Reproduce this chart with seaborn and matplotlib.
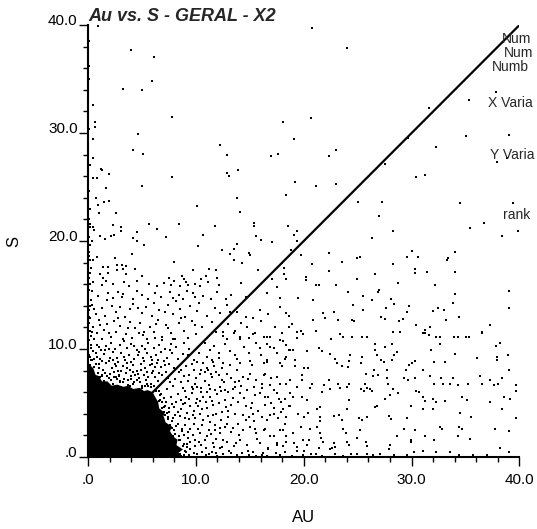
import matplotlib
matplotlib.use("Agg")
import matplotlib.pyplot as plt
import pandas as pd
import seaborn as sns
from matplotlib.ticker import MultipleLocator

# outline of the saturated (solid black) cloud near the origin
blob_au = [0.0, 8.6, 8.4, 8.8, 8.2, 8.3, 7.9, 7.6, 7.8, 7.2, 7.0, 7.1, 6.6, 6.5, 6.2, 6.0,
           5.5, 5.2, 4.8, 4.2, 3.7, 3.3, 2.7, 2.2, 1.8, 1.3, 1.0, 0.7, 0.5, 0.2, 0.0]
blob_s = [0.0, 0.0, 0.4, 0.7, 1.1, 1.6, 1.9, 2.4, 2.8, 3.2, 3.8, 4.1, 4.5, 5.1, 5.6, 6.0,
          6.2, 6.1, 6.4, 6.3, 6.6, 6.5, 6.7, 6.6, 7.0, 7.0, 7.5, 7.6, 8.2, 8.5, 8.8]

# y = x reference line
diag_au = [0.0, 40.0]
diag_s = [0.0, 40.0]

tick_vals = [0, 10, 20, 30, 40]
tick_labels = [".0", "10.0", "20.0", "30.0", "40.0"]

# points with S > 20
pts_high = [
    (0.9, 39.9), (3.96, 37.7), (6.15, 37.0), (5.94, 34.8), (3.28, 34.1), (5.0, 34.0),
    (0.5, 32.6), (7.8, 31.45), (20.8, 39.7), (24.05, 37.9), (31.6, 32.3), (37.8, 33.8),
    (35.3, 33.1), (39.05, 29.8), (35.0, 29.7), (37.9, 27.3), (34.5, 23.5), (39.4, 23.5),
    (35.4, 21.2), (36.7, 21.7), (38.4, 20.5), (39.9, 20.9), (0.65, 31.0), (0.65, 30.6),
    (0.43, 29.4), (0.5, 27.7), (7.76, 31.5), (4.6, 29.9), (4.2, 28.4), (5.07, 28.1),
    (1.2, 26.7), (1.33, 26.6), (1.9, 26.2), (0.5, 25.8), (0.8, 25.8), (7.76, 25.9),
    (5.04, 25.1), (1.67, 24.9), (0.74, 24.0), (0.9, 23.3), (1.5, 23.6), (1.95, 23.7),
    (1.02, 22.6), (2.57, 22.6), (0.19, 21.3), (0.5, 21.3), (0.59, 21.0), (2.29, 21.5),
    (3.06, 21.3), (3.06, 20.96), (5.69, 21.6), (6.37, 21.1), (8.44, 21.6), (7.23, 20.4),
    (2.1, 20.5), (2.4, 20.6), (1.1, 20.5), (4.57, 20.8), (10.14, 23.2), (10.7, 20.6),
    (11.8, 21.4), (12.2, 28.9), (12.9, 28.0), (12.9, 26.3), (13.1, 26.0), (13.95, 26.6),
    (13.8, 24.0), (14.1, 22.7), (15.4, 21.7), (15.4, 21.4), (15.6, 20.5), (17.0, 27.9),
    (17.6, 28.1), (18.1, 31.0), (19.05, 29.4), (18.4, 24.3), (19.2, 25.5), (18.5, 21.4),
    (19.05, 20.6), (20.7, 31.4), (22.3, 27.9), (23.0, 28.4), (29.7, 29.5), (32.3, 28.7),
    (38.8, 27.7), (27.5, 27.1), (30.4, 25.9), (31.2, 26.1), (21.1, 25.1), (23.0, 25.3),
    (25.0, 23.6), (27.3, 23.6), (27.0, 22.3), (19.4, 20.9), (28.3, 20.9), (26.3, 20.3),
    (0.1, 38.5), (0.1, 36.2), (0.05, 35.0), (0.1, 30.4), (0.15, 27.0), (0.1, 24.6),
    (0.2, 23.0), (0.1, 22.0), (0.1, 20.4), (0.15, 21.6),
]

# points with 10 < S < 20
pts_mid = [
    (0.34, 20.0), (4.14, 20.3), (4.5, 20.0), (5.2, 19.6), (4.05, 18.8), (0.8, 18.5),
    (2.5, 18.4), (8.0, 18.1), (0.19, 18.2), (0.43, 18.25), (3.18, 17.8), (2.72, 17.8),
    (1.36, 17.6), (1.89, 17.6), (3.5, 17.7), (10.2, 19.5), (12.4, 19.2), (13.5, 19.3),
    (13.8, 19.7), (13.2, 18.8), (13.5, 18.2), (14.9, 18.9), (15.0, 18.7), (14.3, 18.0),
    (15.8, 17.3), (17.96, 18.0), (19.4, 20.0), (17.1, 19.9), (16.0, 20.1), (1.58, 20.2),
    (0.19, 17.0), (1.1, 16.9), (1.4, 16.6), (1.89, 17.0), (2.66, 17.3), (3.2, 17.4),
    (3.5, 16.9), (4.36, 17.4), (4.98, 16.8), (7.5, 16.6), (8.75, 16.8), (8.9, 16.5),
    (9.1, 16.2), (9.7, 17.3), (10.5, 16.5), (10.9, 16.8), (11.2, 17.4), (11.9, 17.3),
    (12.0, 16.6), (17.1, 16.5),
    (0.49, 16.2), (1.26, 15.9), (1.63, 16.3), (2.35, 16.0), (3.37, 16.2), (3.83, 15.8),
    (4.57, 16.3), (5.66, 16.0), (6.37, 15.8), (7.0, 16.1), (7.68, 15.9), (7.98, 16.3),
    (8.5, 15.8), (9.3, 15.9), (9.9, 16.0), (10.4, 15.8), (11.1, 16.2), (12.1, 15.9),
    (14.2, 16.1), (17.5, 15.7),
    (0.33, 15.4), (0.96, 14.9), (1.89, 15.2), (2.35, 14.7), (2.81, 15.3), (3.12, 14.8),
    (3.28, 15.1), (4.2, 14.6), (4.5, 15.4), (4.98, 15.0), (5.6, 14.6), (6.2, 15.2),
    (6.8, 14.8), (7.6, 15.3), (7.9, 14.7), (8.4, 15.0), (8.85, 14.6), (9.15, 15.4),
    (9.7, 15.2), (9.9, 14.8), (10.7, 14.9), (12.0, 15.3), (12.8, 14.6), (13.3, 15.0),
    (14.6, 14.8), (16.6, 15.2), (17.8, 14.7),
    (0.08, 13.6), (0.39, 14.1), (0.7, 13.2), (1.3, 13.8), (1.6, 13.1), (2.2, 14.0),
    (2.6, 13.4), (2.97, 13.9), (3.4, 13.0), (3.9, 13.7), (4.2, 14.2), (5.0, 13.3),
    (5.4, 13.9), (5.95, 13.1), (6.6, 13.6), (7.4, 14.1), (7.9, 13.2), (8.5, 13.7),
    (9.0, 13.0), (9.5, 14.0), (10.1, 13.5), (11.0, 13.1), (11.8, 13.8), (12.2, 13.3),
    (12.9, 14.1), (13.8, 13.4), (14.6, 13.0), (15.9, 13.6), (16.7, 13.2), (17.8, 13.9),
    (18.6, 13.1),
    (0.1, 12.4), (0.25, 11.2), (0.5, 12.0), (0.8, 11.5), (1.0, 12.7), (1.3, 10.9),
    (1.5, 11.8), (1.8, 12.3), (2.1, 11.1), (2.4, 12.6), (2.6, 11.6), (3.0, 12.1),
    (3.2, 10.9), (3.5, 11.4), (3.9, 12.5), (4.1, 11.0), (4.4, 11.9), (4.8, 12.4),
    (5.1, 11.3), (5.5, 10.9), (5.7, 12.0), (6.1, 11.6), (6.5, 12.7), (6.9, 11.1),
    (7.2, 12.2), (7.7, 11.5), (8.1, 10.9), (8.4, 12.4), (8.9, 11.7), (9.3, 11.0),
    (9.6, 12.6), (10.0, 11.4), (10.6, 12.0), (11.0, 11.0), (11.5, 12.5), (11.9, 11.6),
    (12.5, 11.2), (13.0, 12.3), (13.6, 11.7), (14.1, 10.9), (14.7, 12.0), (15.3, 11.4),
    (16.0, 12.6), (16.6, 11.1), (17.3, 12.0), (18.0, 11.5),
    (5.2, 11.6), (6.3, 12.3), (7.4, 11.9), (8.6, 12.9), (9.9, 12.2), (10.8, 10.6),
    (11.7, 10.3), (12.9, 10.9), (14.5, 10.2), (7.9, 10.9), (6.2, 11.0), (4.7, 11.5),
    (3.7, 11.9), (2.8, 12.9), (1.9, 11.5), (1.1, 12.2), (0.6, 10.9), (0.4, 11.6),
    (0.6, 13.7), (1.8, 14.5), (4.6, 13.8), (6.1, 14.3), (7.1, 13.4), (8.2, 14.4),
    (10.3, 14.3), (11.4, 14.6), (13.2, 13.4), (14.2, 12.4), (15.3, 12.9), (15.6, 10.6),
    (18.8, 19.2), (19.7, 18.7), (22.3, 18.9), (23.5, 18.1), (24.9, 18.4), (25.2, 18.5),
    (28.3, 17.9), (30.0, 19.1), (29.6, 18.5), (30.6, 18.5), (33.3, 18.2), (34.0, 19.0),
    (20.8, 17.9), (18.2, 17.5), (18.2, 16.9), (18.4, 16.5), (20.2, 16.7), (20.2, 16.4),
    (22.3, 17.2), (24.9, 16.5), (26.6, 16.9), (30.3, 17.4), (30.3, 17.0), (31.4, 17.1),
    (34.0, 17.1), (28.7, 16.1), (32.2, 15.9), (21.1, 15.9), (21.4, 15.9), (23.0, 15.9),
    (24.1, 15.3), (25.5, 14.9), (26.9, 15.3), (27.0, 15.5), (26.3, 14.5), (20.9, 14.5),
    (34.0, 15.1), (39.0, 15.4), (19.5, 14.7), (24.6, 14.1), (25.5, 13.6), (28.1, 14.6),
    (28.4, 14.2), (27.6, 13.8), (29.8, 14.0), (32.0, 13.5), (32.4, 13.8), (33.0, 13.6),
    (33.8, 14.3), (39.0, 13.8), (21.8, 13.3), (22.0, 12.9), (22.8, 13.4), (23.2, 12.7),
    (20.9, 12.7), (24.5, 12.7), (24.7, 12.6), (27.2, 13.0), (27.5, 12.8), (28.8, 12.6),
    (29.2, 12.8), (29.6, 13.4), (34.4, 13.0), (33.2, 12.7), (37.3, 12.2), (18.4, 13.3),
    (18.9, 12.3), (18.6, 12.0), (19.4, 11.6), (19.7, 11.7), (19.9, 11.4), (21.1, 11.7),
    (22.5, 10.9), (23.4, 11.4), (23.6, 11.1), (24.5, 11.1), (25.4, 11.1), (25.9, 11.1),
    (28.3, 11.6), (28.9, 11.6), (30.4, 12.2), (31.2, 11.8), (31.7, 12.0), (31.2, 11.5),
    (31.6, 11.3), (32.3, 11.1), (33.9, 11.1), (35.0, 11.1), (36.5, 11.6), (33.4, 18.4),
    (0.1, 19.0), (0.2, 16.0), (0.3, 14.5), (0.05, 15.5), (0.15, 12.9), (0.3, 10.4),
    (0.1, 10.8), (0.2, 11.7), (0.05, 13.0), (0.15, 14.0), (0.1, 16.6), (0.25, 17.5),
    (0.1, 18.6), (0.2, 19.6),
]

# points around and above the solid cloud (AU < 10, S < 11)
pts_near = [
    (1.5, 7.0), (1.9, 7.3), (2.3, 6.8), (2.6, 7.4), (3.0, 6.9), (3.3, 7.2), (3.7, 6.7),
    (4.0, 7.5), (4.3, 6.9), (4.7, 7.3), (5.0, 6.6), (5.4, 7.1), (5.8, 6.8), (6.2, 7.4),
    (0.9, 7.8), (1.3, 7.5), (2.0, 7.7), (2.9, 7.6), (3.5, 7.8), (4.6, 7.7), (5.2, 7.6),
    (5.9, 7.8), (2.4, 7.9), (3.1, 8.0), (4.2, 7.9), (5.6, 7.4), (6.5, 7.0), (6.9, 7.6),
    (0.2, 8.5), (0.6, 8.3), (1.0, 8.6), (1.4, 8.1), (1.7, 8.7), (2.2, 8.2), (2.5, 8.6),
    (2.8, 8.0), (3.2, 8.4), (3.6, 8.7), (3.9, 8.1), (4.2, 8.5), (4.5, 8.0), (4.9, 8.6),
    (5.3, 8.2), (5.7, 8.5), (6.0, 8.0), (6.4, 8.7), (6.8, 8.3), (7.2, 7.9), (7.5, 8.6),
    (0.4, 9.0), (0.1, 9.4), (0.7, 9.6), (1.1, 9.1), (1.5, 9.5), (1.9, 8.9), (2.3, 9.7),
    (2.7, 9.2), (3.1, 9.6), (3.4, 9.0), (3.8, 9.4), (4.3, 9.1), (4.7, 9.7), (5.1, 9.2),
    (5.5, 9.6), (5.9, 9.0), (6.3, 9.4), (6.8, 9.7), (7.3, 9.2), (7.8, 9.6), (8.3, 9.1),
    (8.8, 9.5), (0.3, 10.1), (0.8, 10.4), (1.2, 9.9), (1.7, 10.3), (2.1, 10.6),
    (2.5, 10.0), (3.0, 10.4), (3.6, 10.1), (4.0, 10.5), (4.5, 9.9), (5.0, 10.3),
    (5.6, 10.6), (6.1, 10.1), (6.6, 10.4), (7.1, 10.0), (7.7, 10.5), (8.2, 10.2),
    (8.9, 10.6), (9.4, 10.0),
    (0.5, 9.8), (1.3, 8.9), (2.0, 9.2), (2.6, 8.4), (3.3, 9.3), (4.0, 8.8), (4.6, 9.4),
    (5.2, 8.9), (5.8, 9.3), (6.5, 9.0), (6.2, 8.3), (7.0, 8.9), (7.6, 9.9), (1.0, 10.2),
    (1.9, 10.0), (3.3, 10.7), (4.3, 10.3), (5.3, 10.0), (6.9, 10.8), (2.8, 8.8),
    (3.6, 8.2), (4.4, 7.6), (5.5, 7.9), (6.6, 7.8), (7.1, 8.5), (0.8, 9.3), (1.6, 9.9),
    (2.3, 9.0), (4.9, 8.1), (5.9, 8.6),
    (0.3, 9.0), (0.7, 8.6), (1.0, 8.2), (1.3, 7.6), (1.8, 7.5), (2.1, 7.1), (2.7, 7.2),
    (3.2, 6.9), (3.7, 7.1), (4.2, 6.8), (4.8, 6.9), (5.3, 6.6), (5.8, 6.5), (6.2, 6.2),
    (1.1, 7.4), (2.4, 7.4), (3.0, 7.0), (3.9, 6.6), (4.5, 7.1), (5.0, 6.4), (5.5, 6.8),
    (6.1, 6.6), (1.6, 7.8), (2.9, 7.5), (4.0, 7.2), (0.2, 9.3), (0.6, 9.1),
    (6.7, 5.7), (6.9, 5.1), (7.0, 4.6), (7.3, 4.1), (7.4, 3.5), (7.6, 3.0), (8.0, 2.5),
    (8.1, 2.1), (8.5, 1.6), (8.9, 1.2), (9.0, 0.6), (8.9, 0.2), (6.6, 6.1), (7.1, 3.9),
    (7.8, 2.7), (8.4, 1.9), (9.2, 0.9), (9.4, 0.2), (7.0, 5.5), (7.5, 4.5), (7.9, 3.6),
    (8.3, 3.1), (8.7, 2.6), (9.5, 1.4), (9.8, 0.4),
    (8.5, 0.3), (8.8, 1.0), (9.1, 0.5), (9.3, 1.8), (8.4, 1.6), (8.7, 2.4), (9.0, 3.0),
    (8.2, 2.9), (7.8, 3.3), (8.5, 3.8), (9.2, 4.1), (7.5, 4.2), (8.0, 4.6), (8.8, 4.9),
    (9.4, 5.4), (7.2, 5.1), (7.7, 5.6), (8.3, 5.8), (9.0, 6.1), (6.8, 5.8), (7.3, 6.3),
    (7.9, 6.6), (8.6, 6.9), (9.3, 7.0), (6.6, 6.6), (7.9, 1.9), (8.9, 2.0), (9.5, 2.6),
    (9.4, 3.5), (8.1, 3.9), (7.1, 4.7), (6.7, 5.3), (9.1, 5.6), (8.6, 5.3), (7.6, 6.9),
    (9.6, 6.5), (6.3, 6.1), (8.9, 7.5), (8.1, 7.2), (9.5, 4.7), (8.3, 4.2), (7.4, 3.7),
    (9.2, 1.2), (8.2, 0.7), (8.6, 0.1), (9.0, 3.6), (7.0, 4.2), (8.1, 1.4), (7.6, 2.9),
    (6.9, 4.5), (6.6, 5.2), (5.6, 6.6), (9.6, 8.6), (8.0, 8.2), (8.6, 8.1), (9.3, 9.4),
]

# AU 9.5 - 19.5, S < 12
pts_center = [
    (12.55, 11.6), (13.5, 11.45), (14.1, 11.1), (14.9, 11.0), (15.5, 11.45), (16.9, 11.1),
    (18.1, 10.7), (18.7, 9.9), (19.4, 11.0), (12.7, 10.5), (11.3, 9.9), (12.1, 9.6),
    (13.2, 9.8), (13.8, 9.1), (14.9, 9.6), (15.95, 10.1), (16.9, 10.2), (17.5, 9.6),
    (18.4, 9.3), (16.6, 9.0), (10.1, 8.8), (10.7, 8.7), (11.6, 8.8), (12.55, 8.7),
    (14.1, 8.7), (15.2, 8.5), (17.8, 8.7), (19.2, 8.4),
    (9.8, 8.1), (10.4, 7.7), (11.0, 8.2), (11.5, 7.4), (11.9, 7.9), (12.4, 7.1),
    (12.9, 7.7), (13.3, 7.3), (13.8, 8.1), (14.4, 7.4), (15.0, 7.7), (15.6, 7.1),
    (16.3, 7.6), (17.0, 7.3), (17.8, 6.8), (18.7, 7.1), (19.4, 6.5), (9.9, 6.8),
    (10.5, 6.4), (11.2, 6.7), (11.8, 6.2), (12.2, 6.5), (13.0, 6.0), (13.6, 6.5),
    (14.1, 5.9), (14.7, 6.2), (15.5, 5.7), (16.1, 6.4), (16.7, 5.6), (17.5, 5.9),
    (18.3, 5.4), (19.0, 5.6), (10.1, 5.4), (10.9, 5.1), (11.3, 5.6), (12.1, 5.0),
    (12.7, 5.3), (13.3, 4.8), (13.9, 5.1), (14.6, 4.7), (15.2, 5.0), (15.8, 4.3),
    (16.4, 4.8), (17.2, 4.5), (17.9, 4.2), (18.7, 4.7), (19.5, 4.0), (9.8, 4.3),
    (10.4, 4.0), (11.0, 4.5), (11.6, 3.9), (12.4, 4.2), (13.0, 3.7), (13.6, 4.0),
    (14.4, 3.9), (15.3, 4.0), (16.1, 3.7), (16.9, 3.9), (17.6, 3.6), (18.4, 3.7),
    (9.8, 3.1), (10.2, 2.6), (10.7, 3.4), (11.2, 2.5), (11.8, 3.0), (12.2, 2.2),
    (12.7, 2.8), (13.3, 2.3), (13.9, 3.1), (14.4, 2.5), (15.0, 2.8), (15.6, 2.2),
    (16.4, 2.6), (17.2, 1.9), (18.1, 2.5), (19.0, 2.2), (9.9, 1.6), (10.5, 1.1),
    (11.0, 1.9), (11.6, 1.3), (12.2, 0.8), (12.9, 1.4), (13.5, 1.0), (14.1, 1.6),
    (14.7, 1.1), (15.3, 0.5), (15.9, 1.3), (16.7, 0.8), (17.5, 1.1), (18.4, 1.4),
    (19.4, 0.6), (10.1, 0.3), (10.9, 0.2), (11.5, 0.5), (12.5, 0.3), (13.8, 0.2),
    (14.9, 0.2), (16.6, 0.1), (17.8, 0.2), (18.9, 0.1),
    (9.6, 5.9), (9.7, 2.0), (10.0, 7.3), (10.2, 4.7), (10.3, 1.4), (10.5, 6.0),
    (10.6, 3.0), (10.8, 7.9), (10.9, 0.8), (11.1, 3.8), (11.3, 6.3), (11.4, 2.1),
    (11.6, 4.8), (11.7, 8.4), (11.9, 1.7), (12.0, 5.8), (12.3, 3.4), (12.4, 0.9),
    (12.6, 6.9), (12.8, 4.6), (9.5, 0.7), (9.9, 3.6), (10.1, 6.5), (10.7, 5.6),
    (11.2, 0.3), (12.1, 7.6), (12.2, 2.7), (11.0, 9.3), (10.3, 9.6), (9.8, 9.0),
    (9.9, 1.0), (10.4, 2.2), (10.8, 1.6), (11.3, 3.2), (10.6, 4.4), (11.8, 2.5),
    (11.5, 5.2), (10.4, 5.2), (11.0, 6.0), (9.7, 6.3), (8.8, 6.4), (8.2, 5.1),
    (7.8, 4.9), (9.7, 3.9), (9.3, 2.3), (8.6, 4.4), (9.0, 5.0), (10.0, 5.0),
    (10.8, 7.0), (11.4, 7.7), (9.4, 7.6), (8.4, 7.9), (7.4, 7.3), (12.3, 6.1),
    (12.9, 3.1), (12.5, 1.6), (13.1, 0.6), (11.7, 0.9), (10.6, 0.5), (13.4, 5.5),
    (13.0, 4.3), (11.9, 4.0), (11.1, 8.1), (12.4, 8.2), (9.1, 8.4), (13.6, 6.9),
    (14.2, 6.6), (13.4, 2.7), (14.0, 2.0), (14.6, 3.4), (15.4, 3.3), (15.7, 1.7),
    (14.8, 0.6), (16.2, 0.4), (15.1, 4.5), (15.9, 5.9), (14.5, 5.5),
    (13.6, 9.4), (13.2, 8.5), (14.0, 7.0), (12.7, 6.2), (11.5, 9.0), (10.5, 8.1),
    (15.0, 8.9), (16.0, 9.4), (13.4, 6.3), (14.8, 7.2), (15.4, 6.5), (14.9, 3.7),
    (13.7, 1.3), (14.3, 0.4), (15.5, 2.6), (12.1, 9.2), (11.9, 0.4), (12.0, 0.1),
    (13.3, 0.4), (15.6, 0.1), (16.1, 0.2), (18.3, 0.5),
    (16.3, 8.7), (16.6, 8.8), (16.4, 7.7), (16.1, 6.8), (16.9, 6.7), (17.2, 6.2),
    (17.7, 5.4), (17.9, 5.1), (18.1, 4.4), (17.2, 4.0), (16.6, 3.4), (16.3, 2.5),
    (16.9, 1.9), (17.5, 1.3), (18.1, 1.0), (16.7, 0.7), (17.4, 0.4), (18.4, 6.8),
    (18.7, 5.9), (18.6, 4.7), (18.3, 3.1), (17.8, 2.5), (18.4, 1.9), (17.0, 5.0),
    (16.4, 5.6), (17.5, 7.4), (18.0, 8.4), (18.3, 9.1), (18.6, 9.9), (17.2, 10.1),
    (16.6, 10.5), (16.3, 11.1), (17.8, 10.8), (18.4, 10.4),
]

# AU > 19, S < 12
pts_right = [
    (31.1, 11.45), (32.6, 11.1), (32.6, 10.5), (34.3, 11.1), (35.3, 11.1), (36.5, 11.5),
    (38.2, 10.6), (37.8, 10.3), (31.8, 9.9), (34.0, 9.5), (33.1, 8.8), (32.1, 8.8),
    (36.1, 9.2), (37.9, 9.3), (37.9, 9.0), (38.9, 9.4), (39.0, 8.1), (30.3, 8.9),
    (30.0, 8.7), (29.8, 8.5), (29.5, 8.1), (31.1, 8.1), (31.7, 7.5), (32.1, 6.8),
    (32.7, 7.3), (32.9, 6.8), (33.8, 7.3), (33.6, 6.8), (34.3, 6.7), (35.2, 6.8),
    (36.3, 7.5), (36.5, 6.8), (37.3, 7.1), (37.6, 6.7), (38.0, 6.8), (38.4, 7.3),
    (39.7, 6.7), (39.7, 6.1), (38.6, 5.6), (39.1, 5.4), (37.3, 5.1), (34.7, 5.6),
    (35.1, 5.3), (31.1, 5.6), (31.2, 5.2), (32.0, 5.4), (32.3, 5.1), (33.1, 5.2),
    (30.4, 6.1), (30.7, 6.0), (29.3, 7.3), (29.7, 7.1), (30.3, 7.3), (29.9, 4.7),
    (29.6, 3.6), (31.1, 4.4), (32.0, 4.4), (34.5, 4.1), (35.5, 3.7), (38.4, 4.4),
    (39.7, 3.6), (29.3, 2.6), (30.3, 2.5), (31.2, 1.9), (32.8, 2.6), (32.6, 2.8),
    (34.4, 2.8), (34.7, 2.6), (37.7, 2.6), (39.0, 2.4), (29.9, 1.6), (29.9, 1.4),
    (32.1, 1.6), (34.3, 1.9), (35.4, 1.7), (38.2, 0.8), (39.0, 0.5), (31.1, 0.6),
    (30.2, 0.5), (29.6, 0.2), (32.3, 0.5), (33.6, 0.5), (34.4, 0.2), (35.7, 0.2),
    (37.0, 0.2), (28.0, 1.1), (28.6, 1.9), (27.9, 0.7), (27.9, 3.8), (28.1, 3.5),
    (28.7, 5.95), (28.3, 6.3), (28.0, 5.7), (27.5, 5.4), (27.8, 6.8), (27.7, 7.3),
    (28.2, 9.0), (28.4, 9.4), (28.6, 9.7), (26.6, 9.9), (26.8, 9.4), (27.2, 9.0),
    (27.4, 8.8), (27.7, 8.1), (26.5, 8.1), (26.9, 7.6), (25.8, 7.7), (26.4, 7.5),
    (25.7, 6.8), (25.9, 6.4), (25.3, 6.3), (25.6, 6.1), (26.1, 6.3), (26.3, 6.1),
    (26.8, 4.7), (26.6, 4.6), (25.9, 3.7), (25.1, 3.6), (25.4, 3.4), (24.3, 9.4),
    (24.2, 8.9), (24.1, 8.3), (25.4, 9.3), (25.3, 8.7), (23.1, 8.7), (23.5, 8.4),
    (22.4, 9.5), (22.9, 9.1), (24.2, 6.8), (24.0, 6.5), (23.2, 6.8), (23.4, 6.4),
    (24.2, 5.3), (24.0, 4.4), (23.3, 3.9), (22.8, 3.8), (23.5, 3.4), (23.6, 2.6),
    (23.9, 2.2), (25.2, 2.5), (24.9, 1.8), (24.0, 1.4), (24.2, 1.1), (25.8, 1.4),
    (25.9, 1.0), (22.8, 1.3), (22.9, 0.9), (22.4, 0.7), (22.6, 0.8), (27.1, 0.3),
    (25.9, 0.3), (24.4, 0.3), (24.9, 0.3), (21.5, 3.7), (21.5, 3.3), (21.2, 2.8),
    (21.5, 2.2), (21.6, 1.8), (21.8, 1.4), (21.4, 0.8), (21.1, 0.3), (20.3, 1.1),
    (20.0, 0.6), (19.9, 1.6), (20.5, 1.6), (19.4, 0.95), (19.1, 1.3), (19.7, 2.8),
    (20.6, 2.6), (20.0, 3.7), (20.4, 4.1), (21.2, 4.4), (21.5, 4.6), (19.8, 5.6),
    (20.3, 5.3), (21.7, 6.0), (22.4, 6.3), (21.9, 6.7), (22.3, 7.1), (20.6, 6.4),
    (20.8, 6.8), (19.8, 7.6), (19.8, 7.1), (19.2, 9.0), (20.0, 8.2), (20.4, 8.2),
    (19.0, 9.9), (20.3, 9.8), (21.4, 10.1), (21.7, 9.8), (26.6, 10.5), (27.5, 10.2),
    (28.2, 10.5), (19.9, 0.2), (21.7, 0.1), (22.9, 0.3), (23.6, 0.1), (26.4, 0.2),
    (28.4, 0.2), (20.7, 0.3),
]

df = pd.DataFrame(pts_high + pts_mid + pts_near + pts_center + pts_right,
                  columns=["AU", "S"])

sns.set_theme(style="ticks")
plt.rcParams["font.family"] = ["Liberation Sans", "DejaVu Sans"]

fig = plt.figure(figsize=(5.37, 5.29), dpi=100)
ax = fig.add_axes([0.1639, 0.1361, 0.8035, 0.8166])

ax.fill(blob_au, blob_s, color="black", linewidth=0, zorder=2)
sns.scatterplot(data=df, x="AU", y="S", color="black", s=4, marker="s",
                linewidth=0, ax=ax, zorder=3)
sns.lineplot(x=diag_au, y=diag_s, color="black", linewidth=1.6, ax=ax, zorder=4)

ax.set_xlim(0, 40)
ax.set_ylim(0, 40)
ax.set_xticks(tick_vals)
ax.set_xticklabels(tick_labels)
ax.set_yticks(tick_vals)
ax.set_yticklabels(tick_labels)
ax.xaxis.set_minor_locator(MultipleLocator(2))
ax.yaxis.set_minor_locator(MultipleLocator(2))
ax.tick_params(which="major", length=6.5, width=1, color="black",
               labelsize=11, labelcolor="black")
ax.tick_params(which="minor", length=3.8, width=1, color="black")
ax.tick_params(axis="x", which="major", pad=5)
ax.tick_params(axis="y", which="major", pad=1)
for lab in ax.get_yticklabels():
    lab.set_verticalalignment("baseline")

sns.despine(ax=ax)
for side in ["left", "bottom"]:
    ax.spines[side].set_linewidth(1.5)
    ax.spines[side].set_color("black")

ax.set_xlabel("AU", fontsize=12, color="black")
ax.set_ylabel("S", fontsize=12, color="black")
ax.xaxis.set_label_coords(0.5, -0.123)
ax.yaxis.set_label_coords(-0.155, 0.5)
ax.set_title("Au vs. S - GERAL - X2", loc="left", fontsize=13,
             fontweight="bold", fontstyle="italic", pad=3)

# statistics panel on the right, cut off by the figure edge
fig.text(0.9343, 0.9193, "Num", fontsize=10, va="baseline")
fig.text(0.9385, 0.8928, "Num", fontsize=10, va="baseline")
fig.text(0.9156, 0.8658, "Numb", fontsize=10, va="baseline")
fig.text(0.9088, 0.7983, "X Varia", fontsize=10, va="baseline")
fig.text(0.9125, 0.6994, "Y Varia", fontsize=10, va="baseline")
fig.text(0.9361, 0.5860, "rank", fontsize=10, va="baseline")

fig.savefig("out.png", dpi=100)
